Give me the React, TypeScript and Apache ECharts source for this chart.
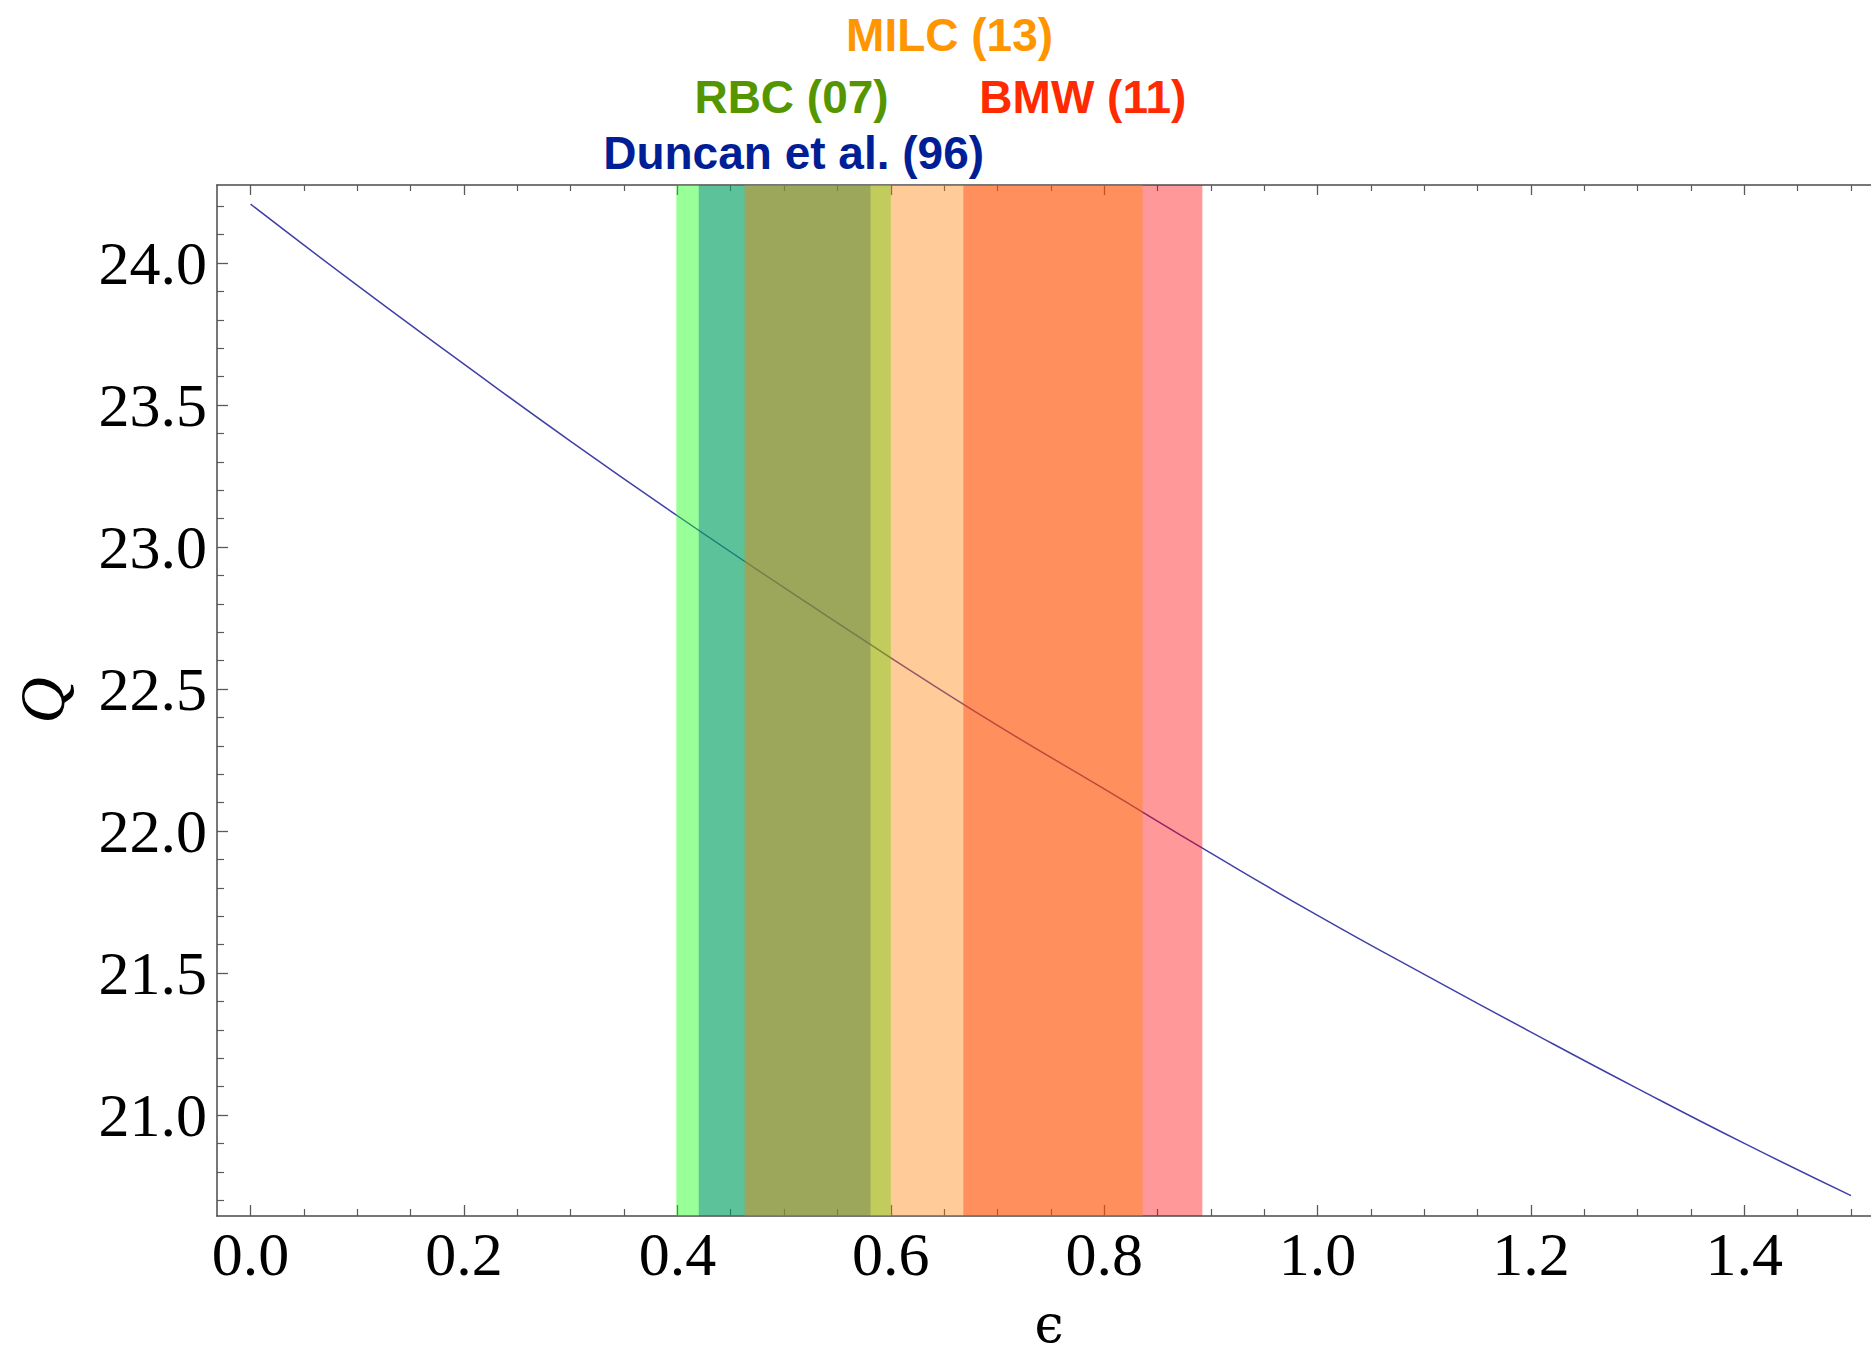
import React, { useEffect, useRef } from "react";
import * as echarts from "echarts";

// Curve Q(epsilon)
const epsilonValues = [0, 0.1, 0.2, 0.3, 0.4, 0.5, 0.6, 0.7, 0.8, 0.9, 1.0, 1.1, 1.2, 1.3, 1.4, 1.5];
const qValues = [24.207, 23.921, 23.644, 23.372, 23.11, 22.857, 22.61, 22.372, 22.148, 21.922, 21.703, 21.495, 21.292, 21.093, 20.9, 20.716];

// Bands (epsilon ranges), in drawing order
const bandNames = ["Duncan et al. (96)", "RBC (07)", "BMW (11)", "MILC (13)"];
const bandStart = [0.42, 0.399, 0.668, 0.463];
const bandEnd = [0.581, 0.6, 0.892, 0.836];

// Tick values
const xMajorTicks = [0, 0.2, 0.4, 0.6, 0.8, 1.0, 1.2, 1.4];
const xMinorTicks = [0.05, 0.1, 0.15, 0.25, 0.3, 0.35, 0.45, 0.5, 0.55, 0.65, 0.7, 0.75, 0.85, 0.9, 0.95, 1.05, 1.1, 1.15, 1.25, 1.3, 1.35, 1.45, 1.5];
const yMajorTicks = [21.0, 21.5, 22.0, 22.5, 23.0, 23.5, 24.0];
const yMinorTicks = [20.7, 20.8, 20.9, 21.1, 21.2, 21.3, 21.4, 21.6, 21.7, 21.8, 21.9, 22.1, 22.2, 22.3, 22.4, 22.6, 22.7, 22.8, 22.9, 23.1, 23.2, 23.3, 23.4, 23.6, 23.7, 23.8, 23.9, 24.1, 24.2];

const X_MIN = -0.0315;
const X_MAX = 1.5187;
const Y_MIN = 20.6444;
const Y_MAX = 24.2746;

const bandFill = ["rgba(0,0,255,0.4)", "rgba(0,255,0,0.4)", "rgba(255,0,0,0.4)", "rgba(255,128,0,0.4)"];
const labelColors = ["#001E96", "#559600", "#FF2A00", "#FF9600"];
const labelDistance = [9, 65, 65, 127];
const labelOffsetX = [9, 8, 0, 6];

const AXIS_COLOR = "#4a4a4a";
const TICK_COLOR = "#5a5a5a";
const SERIF = "'Liberation Serif', 'Times New Roman', serif";

export default function App() {
  const ref = useRef<HTMLDivElement>(null);
  useEffect(() => {
    if (!ref.current) return;
    const chart = echarts.init(ref.current, null, { renderer: "svg" });

    const xBase = {
      type: "value",
      min: X_MIN,
      max: X_MAX,
      splitLine: { show: false },
      gridIndex: 0,
    };
    const yBase = {
      type: "value",
      min: Y_MIN,
      max: Y_MAX,
      splitLine: { show: false },
      gridIndex: 0,
    };

    const bandSeries = bandNames.map((name, i) => ({
      type: "line",
      name,
      data: [],
      z: 3 + i,
      silent: true,
      markArea: {
        silent: true,
        z: 3 + i,
        itemStyle: { color: bandFill[i], borderWidth: 0 },
        emphasis: { disabled: true },
        label: {
          show: true,
          position: "top",
          distance: labelDistance[i],
          offset: [labelOffsetX[i], 0],
          color: labelColors[i],
          fontSize: 46,
          fontFamily: "'Liberation Sans', Arial, sans-serif",
          fontWeight: "bold",
        },
        data: [[{ name, xAxis: bandStart[i] }, { xAxis: bandEnd[i] }]],
      },
    }));

    chart.setOption({
      animation: false,
      backgroundColor: "#ffffff",
      grid: {
        left: 217,
        top: 185,
        right: 0,
        bottom: 138,
        containLabel: false,
        outerBoundsMode: "none",
      },
      xAxis: [
        {
          ...xBase,
          position: "bottom",
          axisLine: { show: true, onZero: false, lineStyle: { color: AXIS_COLOR, width: 1.5 } },
          axisTick: {
            show: true,
            inside: true,
            length: 11,
            customValues: xMajorTicks,
            lineStyle: { color: TICK_COLOR, width: 1.3 },
          },
          axisLabel: {
            show: true,
            customValues: xMajorTicks,
            formatter: (v: number) => v.toFixed(1),
            fontSize: 62,
            fontFamily: SERIF,
            color: "#000",
            margin: 7,
          },
          name: "ϵ",
          nameLocation: "middle",
          nameGap: 88,
          nameTextStyle: {
            fontSize: 52,
            lineHeight: 40,
            padding: [0, 0, 0, 10],
            fontFamily: "'DejaVu Serif', " + SERIF,
            color: "#000",
          },
        },
        {
          ...xBase,
          position: "bottom",
          axisLine: { show: false, onZero: false },
          axisTick: {
            show: true,
            inside: true,
            length: 7,
            customValues: xMinorTicks,
            lineStyle: { color: TICK_COLOR, width: 1.2 },
          },
          axisLabel: { show: false },
        },
        {
          ...xBase,
          position: "top",
          axisLine: { show: true, onZero: false, lineStyle: { color: AXIS_COLOR, width: 1.5 } },
          axisTick: {
            show: true,
            inside: true,
            length: 10,
            customValues: xMajorTicks,
            lineStyle: { color: TICK_COLOR, width: 1.3 },
          },
          axisLabel: { show: false },
        },
        {
          ...xBase,
          position: "top",
          axisLine: { show: false, onZero: false },
          axisTick: {
            show: true,
            inside: true,
            length: 6,
            customValues: xMinorTicks,
            lineStyle: { color: TICK_COLOR, width: 1.2 },
          },
          axisLabel: { show: false },
        },
      ],
      yAxis: [
        {
          ...yBase,
          position: "left",
          axisLine: { show: true, onZero: false, lineStyle: { color: AXIS_COLOR, width: 1.5 } },
          axisTick: {
            show: true,
            inside: true,
            length: 11,
            customValues: yMajorTicks,
            lineStyle: { color: TICK_COLOR, width: 1.3 },
          },
          axisLabel: {
            show: true,
            customValues: yMajorTicks,
            formatter: (v: number) => v.toFixed(1),
            fontSize: 62,
            fontFamily: SERIF,
            color: "#000",
            margin: 10,
          },
          name: "Q",
          nameLocation: "middle",
          nameRotate: 90,
          nameGap: 143,
          nameTextStyle: { fontSize: 64, fontFamily: SERIF, fontStyle: "italic", color: "#000" },
        },
        {
          ...yBase,
          position: "left",
          axisLine: { show: false, onZero: false },
          axisTick: {
            show: true,
            inside: true,
            length: 7,
            customValues: yMinorTicks,
            lineStyle: { color: TICK_COLOR, width: 1.2 },
          },
          axisLabel: { show: false },
        },
      ],
      series: [
        {
          type: "line",
          name: "Q",
          xAxisIndex: 0,
          yAxisIndex: 0,
          z: 2,
          smooth: true,
          showSymbol: false,
          silent: true,
          lineStyle: { color: "#4040A8", width: 1.5 },
          data: epsilonValues.map((e, i) => [e, qValues[i]]),
        },
        ...bandSeries,
      ],
    });

    return () => chart.dispose();
  }, []);

  return (
    <div
      ref={ref}
      style={{ position: "fixed", left: 0, top: 0, width: 1871, height: 1354, background: "#fff" }}
    />
  );
}
